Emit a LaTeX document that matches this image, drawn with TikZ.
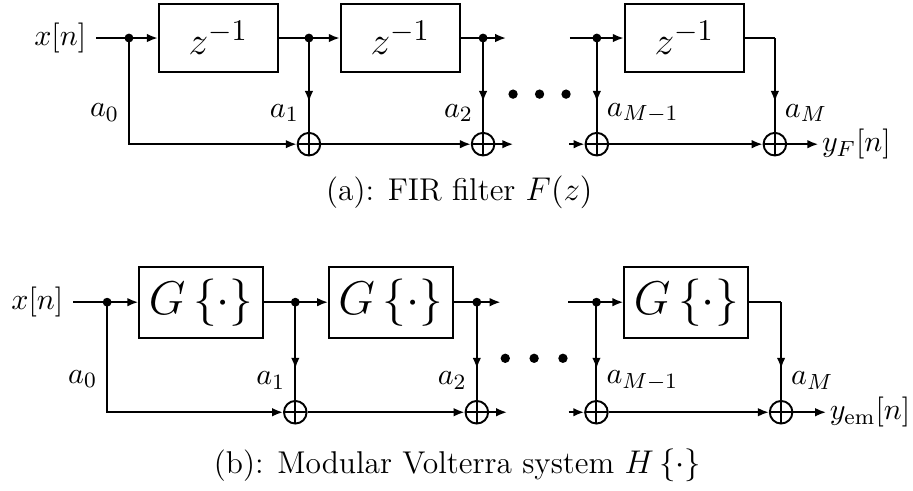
\documentclass[tikz,border=0pt]{standalone}
\usepackage{amsmath,amssymb}
\usepackage{tikz}
\usetikzlibrary{arrows.meta,positioning,calc,decorations.markings}

\begin{document}
\begin{tikzpicture}[line width=0.7pt,font=\fontsize{11}{13}\selectfont,
 blk/.style={draw,minimum width=15.3mm,minimum height=8.7mm,font=\fontsize{15.5}{19}\selectfont},
 gblk/.style={blk,minimum width=15.9mm,minimum height=9.1mm,font=\LARGE},
 sum/.style={draw,circle,minimum size=2.9mm,inner sep=0pt,
  path picture={\draw (path picture bounding box.west)--(path picture bounding box.east)
   (path picture bounding box.north)--(path picture bounding box.south);}},
 arr/.style={-{Latex[length=1.4mm,width=1.1mm]}},
 marr/.style={postaction=decorate,decoration={markings,
  mark=at position #1 with {\arrow{Latex[length=1.4mm,width=1.1mm]}}}},
 marr/.default=0.68,
 captxt/.style={font=\fontsize{11.5}{14}\selectfont}]
 % (a) FIR filter
 \node (inA) {$x[n]$};
 \coordinate[right=4.2mm of inA] (dA0);
 \node[blk,right=3.7mm of dA0] (zA1) {$z^{-1}$};
 \coordinate[right=3.85mm of zA1] (dA1);
 \node[blk,right=3.95mm of dA1] (zA2) {$z^{-1}$};
 \coordinate[right=2.85mm of zA2] (dA2);
 \coordinate[right=2.95mm of dA2] (eA2);
 \coordinate[right=8.2mm of eA2] (bA3);
 \coordinate[right=3.45mm of bA3] (dA3);
 \node[blk,right=3.45mm of dA3] (zA3) {$z^{-1}$};
 \coordinate[right=3.85mm of zA3] (cA);
 \node[sum,below=12.05mm of dA1] (sA1) {};
 \node[sum,below=12.05mm of dA2] (sA2) {};
 \node[sum,below=12.05mm of dA3] (sA3) {};
 \node[sum,below=12.05mm of cA] (sA4) {};
 \coordinate[right=2.3mm of sA2] (fA2);
 \coordinate[left=2mm of sA3] (gA3);
 \node[right=4mm of sA4,inner sep=1pt] (outA) {$y_F[n]$};
 \coordinate[below right=7.2mm and 0.9mm of eA2] (elA);
 \foreach \k in {0,1,2} \fill ([xshift=\k*3.4mm]elA) circle (0.6mm);
 \foreach \p in {dA0,dA1,dA2,dA3} \fill (\p) circle (0.57mm);
 \draw (inA) -- (dA0);
 \draw[arr] (dA0) -- (zA1); \draw (zA1) -- (dA1); \draw[arr] (dA1) -- (zA2);
 \draw (zA2) -- (dA2); \draw[arr] (dA2) -- (eA2);
 \draw (bA3) -- (dA3); \draw[arr] (dA3) -- (zA3); \draw (zA3) -- (cA);
 \draw[arr] (dA0) |- node[pos=0.35,left] {$a_0$} (sA1);
 \draw[marr] (dA1) -- node[pos=0.8,left] {$a_1$} (sA1);
 \draw[marr] (dA2) -- node[pos=0.8,left] {$a_2$} (sA2);
 \draw[marr] (dA3) -- node[pos=0.8,right] {$a_{M-1}$} (sA3);
 \draw[marr] (cA) -- node[pos=0.8,right] {$a_M$} (sA4);
 \draw[arr] (sA1) -- (sA2); \draw[arr] (sA2) -- (fA2);
 \draw[arr] (gA3) -- (sA3); \draw[arr] (sA3) -- (sA4);
 \draw[arr] (sA4) -- (outA);
 \node[captxt,yshift=-19.8mm] (capA) at ($(inA.west)!0.5!(outA.east|-inA)$) {(a): FIR filter $F(z)$};
 % (b) modular Volterra system
 \node (inB) at ([shift={(-2.95mm,-33.9mm)}]inA) {$x[n]$};
 \coordinate[right=4.35mm of inB] (dB0);
 \node[gblk,right=4mm of dB0] (gB1) {$G\left\{\cdot\right\}$};
 \coordinate[right=4mm of gB1] (dB1);
 \node[gblk,right=4.2mm of dB1] (gB2) {$G\left\{\cdot\right\}$};
 \coordinate[right=2.95mm of gB2] (dB2);
 \coordinate[right=3.05mm of dB2] (eB2);
 \coordinate[right=8.7mm of eB2] (bB3);
 \coordinate[right=3.6mm of bB3] (dB3);
 \node[gblk,right=3.45mm of dB3] (gB3) {$G\left\{\cdot\right\}$};
 \coordinate[right=4.1mm of gB3] (cB);
 \node[sum,below=12.55mm of dB1] (sB1) {};
 \node[sum,below=12.55mm of dB2] (sB2) {};
 \node[sum,below=12.55mm of dB3] (sB3) {};
 \node[sum,below=12.55mm of cB] (sB4) {};
 \coordinate[right=2.3mm of sB2] (fB2);
 \coordinate[left=2mm of sB3] (gB3in);
 \node[right=4.2mm of sB4,inner sep=1pt] (outB) {$y_{\mathrm{em}}[n]$};
 \coordinate[below right=7.2mm and 0.6mm of eB2] (elB);
 \foreach \k in {0,1,2} \fill ([xshift=\k*3.7mm]elB) circle (0.6mm);
 \foreach \p in {dB0,dB1,dB2,dB3} \fill (\p) circle (0.57mm);
 \draw (inB) -- (dB0);
 \draw[arr] (dB0) -- (gB1); \draw (gB1) -- (dB1); \draw[arr] (dB1) -- (gB2);
 \draw (gB2) -- (dB2); \draw[arr] (dB2) -- (eB2);
 \draw (bB3) -- (dB3); \draw[arr] (dB3) -- (gB3); \draw (gB3) -- (cB);
 \draw[arr] (dB0) |- node[pos=0.35,left] {$a_0$} (sB1);
 \draw[marr] (dB1) -- node[pos=0.8,left] {$a_1$} (sB1);
 \draw[marr] (dB2) -- node[pos=0.8,left] {$a_2$} (sB2);
 \draw[marr] (dB3) -- node[pos=0.8,right] {$a_{M-1}$} (sB3);
 \draw[marr] (cB) -- node[pos=0.8,right] {$a_M$} (sB4);
 \draw[arr] (sB1) -- (sB2); \draw[arr] (sB2) -- (fB2);
 \draw[arr] (gB3in) -- (sB3); \draw[arr] (sB3) -- (sB4);
 \draw[arr] (sB4) -- (outB);
 \node[captxt,yshift=-20.9mm] (capB) at ($(inB.west)!0.5!(outB.east|-inB)$) {(b): Modular Volterra system $H\left\{\cdot\right\}$};
 \useasboundingbox ([shift={(-16.55mm,4.88mm)}]dA0) rectangle ([shift={(100.6mm,-57.6mm)}]dA0);
\end{tikzpicture}
\end{document}
